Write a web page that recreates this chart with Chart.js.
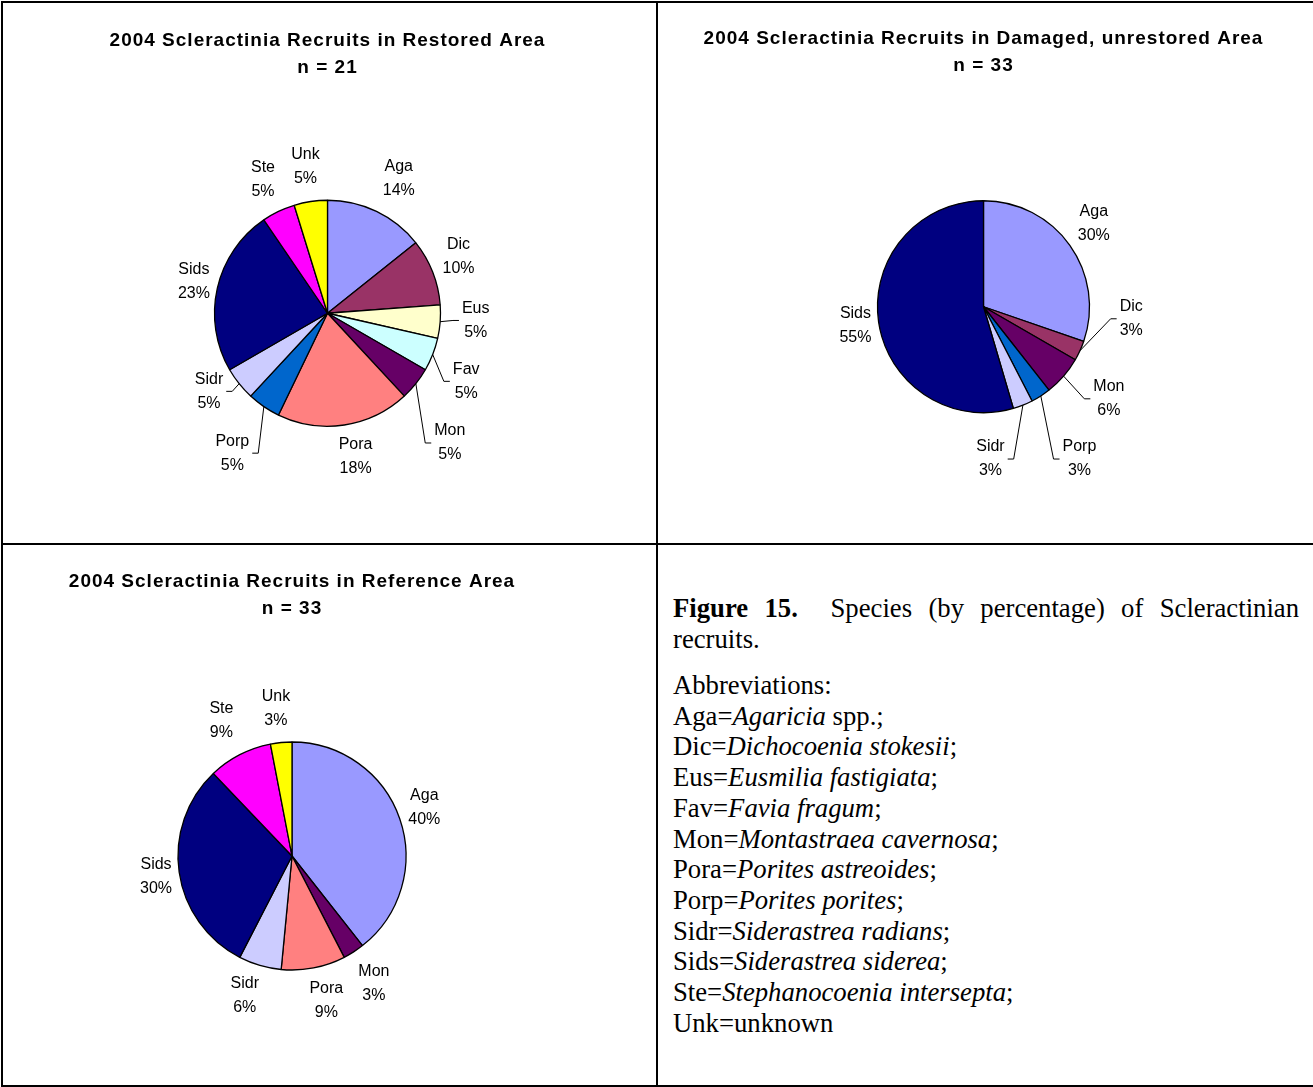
<!DOCTYPE html>
<html>
<head>
<meta charset="utf-8">
<script src="https://cdn.jsdelivr.net/npm/chart.js@4.4.1/dist/chart.umd.min.js"></script>
<style>
  html, body { margin: 0; padding: 0; background: #fff; }
  body { width: 1313px; height: 1087px; position: relative; overflow: hidden; }
  .rule { position: absolute; background: #000; }
  canvas { position: absolute; }
  #note {
    position: absolute; left: 673px; top: 593px; width: 626px;
    font-family: "Liberation Serif", "Times New Roman", serif;
    font-size: 26.7px; line-height: 30.7px; color: #000;
  }
  #note p { margin: 0; }
  #note p.cap { text-align: justify; margin-bottom: 15.6px; }
</style>
</head>
<body>
<div class="rule" style="left:1px;top:1px;width:1312px;height:2px"></div>
<div class="rule" style="left:1px;top:543px;width:1312px;height:2px"></div>
<div class="rule" style="left:1px;top:1085px;width:1312px;height:2px"></div>
<div class="rule" style="left:1px;top:1px;width:2px;height:1086px"></div>
<div class="rule" style="left:656px;top:1px;width:2px;height:1086px"></div>

<canvas id="restored" width="653" height="540" style="left:3px;top:3px"></canvas>
<canvas id="damaged" width="654" height="540" style="left:659px;top:3px"></canvas>
<canvas id="reference" width="580" height="538" style="left:3px;top:546px"></canvas>

<div id="note">
  <p class="cap"><b>Figure 15.</b>&nbsp; Species (by percentage) of Scleractinian recruits.</p>
  <p>Abbreviations:<br>
  Aga=<i>Agaricia</i> spp.;<br>
  Dic=<i>Dichocoenia stokesii</i>;<br>
  Eus=<i>Eusmilia fastigiata</i>;<br>
  Fav=<i>Favia fragum</i>;<br>
  Mon=<i>Montastraea cavernosa</i>;<br>
  Pora=<i>Porites astreoides</i>;<br>
  Porp=<i>Porites porites</i>;<br>
  Sidr=<i>Siderastrea radians</i>;<br>
  Sids=<i>Siderastrea siderea</i>;<br>
  Ste=<i>Stephanocoenia intersepta</i>;<br>
  Unk=unknown</p>
</div>

<script>
// recruit counts per species, and the percentages printed on the slices
const restoredNames = ["Aga", "Dic", "Eus", "Fav", "Mon", "Pora", "Porp", "Sidr", "Sids", "Ste", "Unk"];
const restoredCounts = [3, 2, 1, 1, 1, 4, 1, 1, 5, 1, 1];
const restoredPct = [14, 10, 5, 5, 5, 18, 5, 5, 23, 5, 5];

const damagedNames = ["Aga", "Dic", "Mon", "Porp", "Sidr", "Sids"];
const damagedCounts = [10, 1, 2, 1, 1, 18];
const damagedPct = [30, 3, 6, 3, 3, 55];

const referenceNames = ["Aga", "Mon", "Pora", "Sidr", "Sids", "Ste", "Unk"];
const referenceCounts = [13, 1, 3, 2, 10, 3, 1];
const referencePct = [40, 3, 9, 6, 30, 9, 3];

const speciesColors = {
  Aga: "#9999FF", Dic: "#993366", Eus: "#FFFFCC", Fav: "#CCFFFF", Mon: "#660066",
  Pora: "#FF8080", Porp: "#0066CC", Sidr: "#CCCCFF", Sids: "#000080", Ste: "#FF00FF", Unk: "#FFFF00",
};

const FONT = "'Liberation Sans', Arial, sans-serif";

// excel-ish spaced bold titles
const spacedTitle = {
  id: "spacedTitle",
  beforeDraw(chart) { chart.ctx.letterSpacing = "1px"; },
  beforeDatasetsDraw(chart) { chart.ctx.letterSpacing = "0px"; },
};

// "Name / nn%" labels outside the pie, some moved out with leader lines
const sliceLabels = {
  id: "sliceLabels",
  afterDatasetsDraw(chart, args, opts) {
    const ctx = chart.ctx;
    const meta = chart.getDatasetMeta(0);
    const names = chart.data.labels;
    ctx.save();
    ctx.letterSpacing = "0px";
    ctx.font = "16px " + FONT;
    ctx.fillStyle = "#000";
    ctx.strokeStyle = "#000";
    ctx.lineWidth = 1;
    ctx.textAlign = "center";
    ctx.textBaseline = "middle";
    meta.data.forEach((arc, i) => {
      const { x, y, startAngle, endAngle, outerRadius } =
        arc.getProps(["x", "y", "startAngle", "endAngle", "outerRadius"], true);
      const mid = (startAngle + endAngle) / 2;
      const ux = Math.cos(mid), uy = Math.sin(mid);
      const lines = [names[i], opts.pct[i] + "%"];
      const w = Math.max(...lines.map((t) => ctx.measureText(t).width));
      const d = outerRadius + 8 + Math.abs(ux) * w / 2 + Math.abs(uy) * 25;
      const nudge = (opts.nudge || {})[names[i]] || {};
      const lx = x + ux * d + (nudge.dx || 0);
      const ly = y + uy * d + (nudge.dy || 0);
      if (nudge.leader) {
        const px = x + ux * outerRadius, py = y + uy * outerRadius;
        const side = px < lx ? 1 : -1;
        const ex = lx - side * (w / 2 + 3);
        ctx.beginPath();
        ctx.moveTo(px, py);
        ctx.lineTo(ex - side * 6, ly);
        ctx.lineTo(ex, ly);
        ctx.stroke();
      }
      ctx.fillText(lines[0], lx, ly - 12);
      ctx.fillText(lines[1], lx, ly + 12);
    });
    ctx.restore();
  },
};

function makePie(id, names, counts, pct, title, radius, titleTop, padding, nudge) {
  return new Chart(document.getElementById(id), {
    type: "pie",
    data: {
      labels: names,
      datasets: [{
        data: counts,
        backgroundColor: names.map((n) => speciesColors[n]),
        borderColor: "#000",
        borderWidth: 1.3,
        radius: radius,
      }],
    },
    options: {
      responsive: false,
      animation: false,
      events: [],
      layout: { padding: padding },
      plugins: {
        legend: { display: false },
        tooltip: { enabled: false },
        title: {
          display: true,
          text: title,
          color: "#000",
          font: { family: FONT, size: 19, weight: "bold", lineHeight: "27px" },
          padding: { top: titleTop, bottom: 10 },
        },
        sliceLabels: { pct: pct, nudge: nudge },
      },
    },
    plugins: [spacedTitle, sliceLabels],
  });
}

makePie("restored", restoredNames, restoredCounts, restoredPct,
  ["2004 Scleractinia Recruits in Restored Area", "n = 21"],
  113, 24, { left: 0, right: 4, top: 0, bottom: 7.5 },
  {
    Aga: { dx: 6, dy: 1 },
    Dic: { dx: -4, dy: -4 },
    Eus: { dx: 12, dy: -3, leader: true },
    Fav: { dx: 6, dy: 16, leader: true },
    Mon: { dx: 6, dy: 37, leader: true },
    Pora: { dx: 6, dy: -3 },
    Porp: { dx: -10, dy: 15, leader: true },
    Sidr: { dx: -3, dy: -14, leader: true },
    Sids: { dx: 5, dy: 0 },
  });

makePie("damaged", damagedNames, damagedCounts, damagedPct,
  ["2004 Scleractinia Recruits in Damaged, unrestored Area", "n = 33"],
  106, 22.5, { left: 0, right: 5, top: 0, bottom: 19 },
  {
    Aga: { dx: -5, dy: -1 },
    Dic: { dx: 25, dy: -44, leader: true },
    Mon: { dx: 18, dy: -1, leader: true },
    Porp: { dx: 18, dy: 31, leader: true },
    Sidr: { dx: -46, dy: 20, leader: true },
    Sids: { dx: 4, dy: 0 },
  });

makePie("reference", referenceNames, referenceCounts, referencePct,
  ["2004 Scleractinia Recruits in Reference Area", "n = 33"],
  114, 22.5, { left: 0, right: 2, top: 0, bottom: 4.5 },
  {
    Aga: { dx: -5, dy: -1 },
    Pora: { dx: 6, dy: -2 },
    Sidr: { dx: -5, dy: -4 },
    Sids: { dx: 4, dy: 0 },
    Ste: { dx: -2, dy: -2 },
    Unk: { dx: -2, dy: 0 },
  });
</script>
</body>
</html>
